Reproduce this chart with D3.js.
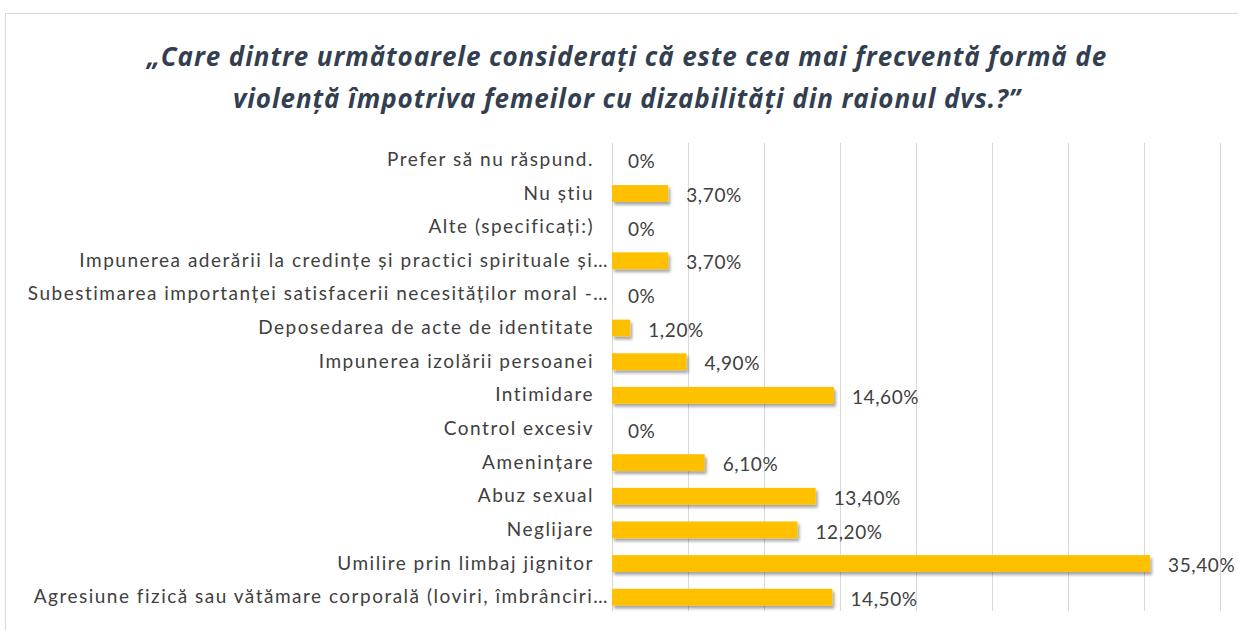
<!DOCTYPE html>
<html>
<head>
<meta charset="utf-8">
<script src="https://cdn.jsdelivr.net/npm/d3@7"></script>
<style>
  body { margin: 0; background: #fff; }
  svg { display: block; }
</style>
</head>
<body>
<div id="chart"></div>
<script>
// categories, top to bottom as shown
const categories = [
  "Prefer să nu răspund.",
  "Nu știu",
  "Alte (specificați:)",
  "Impunerea aderării la credințe și practici spirituale și…",
  "Subestimarea importanței satisfacerii necesităților moral -…",
  "Deposedarea de acte de identitate",
  "Impunerea izolării persoanei",
  "Intimidare",
  "Control excesiv",
  "Amenințare",
  "Abuz sexual",
  "Neglijare",
  "Umilire prin limbaj jignitor",
  "Agresiune fizică sau vătămare corporală (loviri, îmbrânciri…"
];
const values = [0, 3.7, 0, 3.7, 0, 1.2, 4.9, 14.6, 0, 6.1, 13.4, 12.2, 35.4, 14.5];
const gridTicks = [0, 5, 10, 15, 20, 25, 30, 35, 40];
const titleLines = [
  "„Care dintre următoarele considerați că este cea mai frecventă formă de",
  "violență împotriva femeilor cu dizabilități din raionul dvs.?”"
];

const W = 1238, H = 630;
const data = categories.map((c, i) => ({ cat: c, val: values[i] }));

const svg = d3.select("#chart").append("svg")
    .attr("width", W)
    .attr("height", H);

// shadow under the bars
const defs = svg.append("defs");
defs.append("filter")
    .attr("id", "shadow")
    .attr("x", "-10%").attr("y", "-30%")
    .attr("width", "130%").attr("height", "180%")
  .append("feDropShadow")
    .attr("dx", 2).attr("dy", 3)
    .attr("stdDeviation", 1.6)
    .attr("flood-color", "#000")
    .attr("flood-opacity", 0.35);

// chart frame
svg.append("rect")
    .attr("x", 5.5).attr("y", 13.5)
    .attr("width", W + 20).attr("height", H + 20)
    .attr("fill", "#fff")
    .attr("stroke", "#d9d9d9");

// title
svg.append("g").selectAll("text")
    .data(titleLines)
  .enter().append("text")
    .attr("x", 627)
    .attr("y", (d, i) => 66 + i * 42)
    .attr("text-anchor", "middle")
    .attr("font-family", "'Open Sans', sans-serif")
    .attr("font-style", "italic")
    .attr("font-weight", "bold")
    .attr("font-size", 26)
    .attr("letter-spacing", 0.9)
    .attr("fill", "#333f50")
    .text(d => d);

// scales
const x = d3.scaleLinear()
    .domain([0, 40])
    .range([612, 1220]);
const y = d3.scaleBand()
    .domain(categories)
    .range([143, 614])
    .paddingInner(0.5)
    .paddingOuter(0.25);

// vertical gridlines
svg.append("g")
    .attr("transform", "translate(0,611)")
    .call(d3.axisBottom(x).tickValues(gridTicks).tickSize(-468).tickFormat(""))
    .call(g => g.select(".domain").remove())
    .call(g => g.selectAll(".tick line").attr("stroke", "#d9d9d9"));

// category labels (truncated ones run a bit further right, as in the original)
svg.append("g")
    .attr("transform", "translate(594,0)")
    .call(d3.axisLeft(y).tickSize(0).tickPadding(0))
    .call(g => g.select(".domain").remove())
    .call(g => g.selectAll("text")
        .attr("font-family", "Lato, sans-serif")
        .attr("font-size", 19)
        .attr("letter-spacing", 1.5)
        .attr("fill", "#404040")
        .attr("x", d => d.endsWith("…") ? 15 : 0));

// bars
svg.selectAll(".bar")
    .data(data.filter(d => d.val > 0))
  .enter().append("rect")
    .attr("class", "bar")
    .attr("fill", "#ffc000")
    .attr("filter", "url(#shadow)")
    .attr("x", x(0))
    .attr("y", d => y(d.cat))
    .attr("width", d => x(d.val) - x(0))
    .attr("height", y.bandwidth());

// value labels
const fmt = v => v === 0 ? "0%" : v.toFixed(2).replace(".", ",") + "%";
svg.selectAll(".val")
    .data(data)
  .enter().append("text")
    .attr("class", "val")
    .attr("x", d => x(d.val) + (d.val === 0 ? 16 : 18))
    .attr("y", d => y(d.cat) + y.bandwidth() / 2 + 2)
    .attr("dy", "0.35em")
    .attr("font-family", "Lato, sans-serif")
    .attr("font-size", 19)
    .attr("letter-spacing", 0.6)
    .attr("fill", "#404040")
    .text(d => fmt(d.val));
</script>
</body>
</html>
